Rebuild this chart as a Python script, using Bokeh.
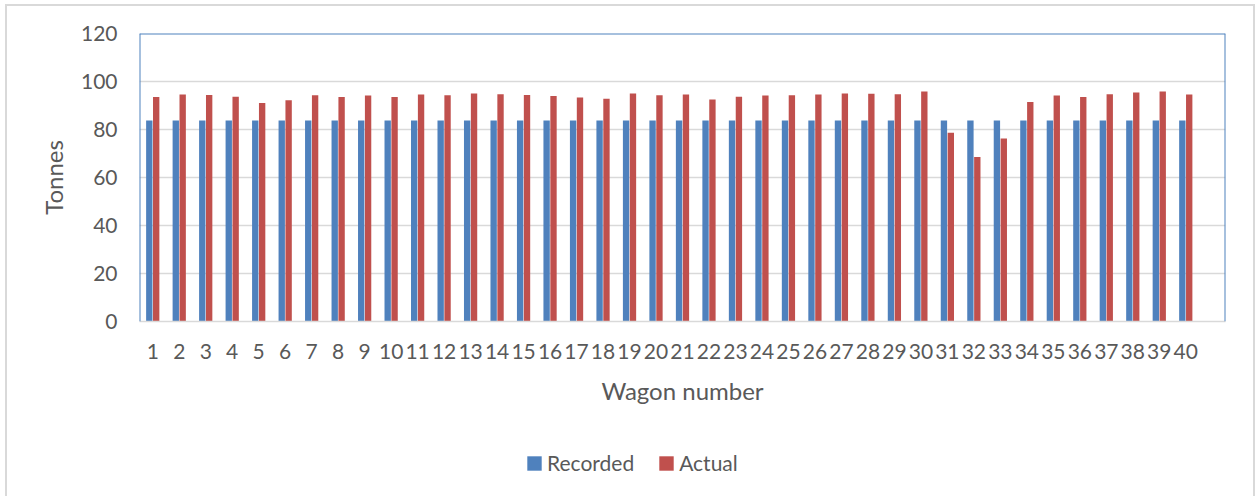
from bokeh.plotting import figure
from bokeh.layouts import column
from bokeh.models import FixedTicker, Legend, LegendItem, Span, ColumnDataSource
from bokeh.transform import dodge
from bokeh.embed import file_html
from bokeh.resources import INLINE

wagons = list(range(1, 41))
recorded = [83.8, 83.8, 83.8, 83.8, 83.8, 83.8, 83.8, 83.8, 83.8, 83.8,
            83.8, 83.8, 83.8, 83.8, 83.8, 83.8, 83.8, 83.8, 83.8, 83.8,
            83.8, 83.8, 83.8, 83.8, 83.8, 83.8, 83.8, 83.8, 83.8, 83.8,
            83.8, 83.8, 83.8, 83.8, 83.8, 83.8, 83.8, 83.8, 83.8, 83.8]
actual = [93.5, 94.6, 94.4, 93.6, 91.0, 92.2, 94.3, 93.5, 94.2, 93.5,
          94.6, 94.3, 95.0, 94.7, 94.4, 94.0, 93.3, 92.8, 95.0, 94.3,
          94.6, 92.5, 93.6, 94.2, 94.3, 94.6, 95.0, 94.9, 94.7, 95.8,
          78.6, 68.5, 76.3, 91.5, 94.2, 93.5, 94.7, 95.4, 95.8, 94.6]
y_ticks = [0, 20, 40, 60, 80, 100, 120]
series_names = ["Recorded", "Actual"]
series_colors = ["#4F81BD", "#C0504D"]

TEXT = "#595959"
GRID = "#D9D9D9"
FONT = "Lato"

src = ColumnDataSource(dict(wagon=wagons, recorded=recorded, actual=actual))

# ---------------- main chart ----------------
p = figure(width=1246, height=420, x_range=(0.5, 41.5), y_range=(0, 120),
           output_backend="svg", toolbar_location=None,
           min_border_left=132, min_border_right=28, min_border_top=27,
           min_border_bottom=105)
p.outline_line_color = None
p.background_fill_color = "white"
p.border_fill_color = "white"

r1 = p.vbar(x=dodge("wagon", -0.13, range=p.x_range), top="recorded", width=0.24,
            source=src, fill_color=series_colors[0], line_color=None)
r2 = p.vbar(x=dodge("wagon", 0.13, range=p.x_range), top="actual", width=0.24,
            source=src, fill_color=series_colors[1], line_color=None)

p.xgrid.grid_line_color = None
p.ygrid.ticker = FixedTicker(ticks=y_ticks)
p.ygrid.grid_line_color = GRID
p.ygrid.grid_line_width = 1.5

for loc, dim in [(0.5, "height"), (41.5, "height"), (120, "width")]:
    p.add_layout(Span(location=loc, dimension=dim, line_color="#4F81BD",
                      line_width=2, level="overlay"))

xa = p.xaxis[0]
xa.ticker = FixedTicker(ticks=wagons)
xa.axis_line_color = GRID
xa.axis_line_width = 1.5
xa.major_tick_line_color = None
xa.minor_tick_line_color = None
xa.major_tick_out = 0
xa.major_tick_in = 0
xa.major_label_text_font = FONT
xa.major_label_text_font_size = "21px"
xa.major_label_text_color = TEXT
xa.major_label_standoff = 22
xa.axis_label = "Wagon number"
xa.axis_label_text_font = FONT
xa.axis_label_text_font_size = "24px"
xa.axis_label_text_font_style = "normal"
xa.axis_label_text_color = TEXT
xa.axis_label_standoff = 14

ya = p.yaxis[0]
ya.ticker = FixedTicker(ticks=y_ticks)
ya.axis_line_color = None
ya.major_tick_line_color = None
ya.minor_tick_line_color = None
ya.major_tick_out = 0
ya.major_tick_in = 0
ya.major_label_text_font = FONT
ya.major_label_text_font_size = "21px"
ya.major_label_text_color = TEXT
ya.major_label_standoff = 22
ya.axis_label = "Tonnes"
ya.axis_label_text_font = FONT
ya.axis_label_text_font_size = "24px"
ya.axis_label_text_font_style = "normal"
ya.axis_label_text_color = TEXT
ya.axis_label_standoff = 10

# ---------------- legend strip ----------------
# bars here sit below the visible y range; they only supply the legend swatches
q = figure(width=1246, height=70, x_range=(0.5, 41.5), y_range=(1000, 1001),
           output_backend="svg", toolbar_location=None,
           x_axis_location=None, y_axis_location=None,
           min_border_left=0, min_border_right=0, min_border_top=0,
           min_border_bottom=0)
q.outline_line_color = None
q.grid.visible = False
q.background_fill_color = "white"
q.border_fill_color = "white"
k1 = q.vbar(x="wagon", top="recorded", width=0.24, source=src,
            fill_color=series_colors[0], line_color=None)
k2 = q.vbar(x="wagon", top="actual", width=0.24, source=src,
            fill_color=series_colors[1], line_color=None)

legend = Legend(items=[LegendItem(label=series_names[0], renderers=[k1]),
                       LegendItem(label=series_names[1], renderers=[k2])],
                orientation="horizontal", location=(386, 21),
                glyph_width=18, glyph_height=18, label_standoff=4, spacing=23,
                padding=0, margin=0, border_line_color=None,
                background_fill_alpha=0,
                label_text_font=FONT, label_text_font_size="21px",
                label_text_color=TEXT)
q.add_layout(legend, "center")

layout = column(p, q, spacing=0)
layout.styles = {"margin-left": "5px", "margin-top": "4px",
                 "border-left": "2px solid #D9D9D9", "border-top": "2px solid #D9D9D9",
                 "border-right": "2px solid #D9D9D9"}

open("out.html", "w").write(file_html(layout, INLINE))
